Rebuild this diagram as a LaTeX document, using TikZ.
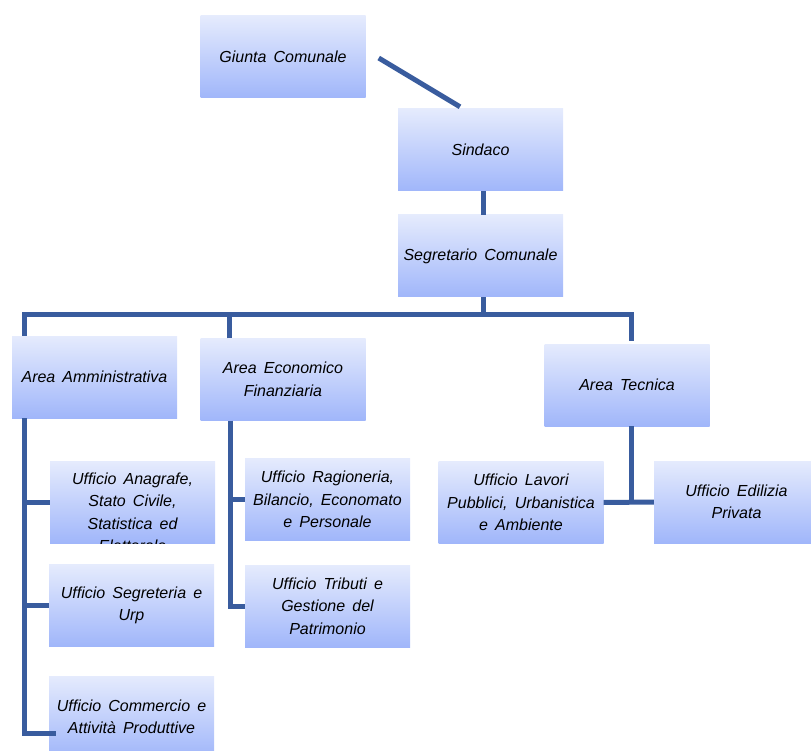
\documentclass[tikz,border=0pt]{standalone}
\usepackage{fontspec}
\setmainfont[WordSpace=1.6]{Liberation Sans}
\usetikzlibrary{positioning, calc}
\definecolor{boxtop}{RGB}{229,235,253}
\definecolor{boxbot}{RGB}{160,182,250}
\definecolor{linkblue}{RGB}{57,92,158}

\begin{document}
\begin{tikzpicture}[x=1pt, y=-1pt,
    box/.style={rectangle, top color=boxtop, bottom color=boxbot, draw=none, minimum width=165pt, minimum height=82pt, align=center, font=\fontsize{16}{22.5}\selectfont\itshape},
    boxtext/.style={align=center, inner sep=3pt, font=\fontsize{16}{22.5}\selectfont\itshape},
    link/.style={line width=5pt, linkblue, line join=miter}]

    \useasboundingbox (0,0) rectangle (811,751);
    \clip (0,0) rectangle (811,751);

    % Vertici
    \node[box] (giunta) at (283,57) {Giunta Comunale};
    \node[box] (sindaco) at (480.5,150) {Sindaco};
    \node[box] (segretario) at (480.5,256) {Segretario Comunale};

    % Aree
    \node[box] (amm) at (94.5,377) {Area Amministrativa};
    \node[box] (eco) at (283,379.5) {Area Economico\\Finanziaria};
    \node[box] (tecnica) at (627,385) {Area Tecnica};

    % Uffici
    \node[box] (anagrafe) at (132.5,502.5) {};
    \begin{scope}
        \clip (anagrafe.north west) rectangle (anagrafe.south east);
        \node[boxtext, anchor=north] (anagrafetxt) at ($(anagrafe.north)+(0,8)$) {Ufficio Anagrafe,\\Stato Civile,\\Statistica ed\\Elettorale};
    \end{scope}
    \node[box] (segreteria) at (131.5,605.5) {Ufficio Segreteria e\\Urp};
    \node[box] (commercio) at (131.5,717) {Ufficio Commercio e\\Attività Produttive};
    \node[box] (ragioneria) at (327.5,499.5) {Ufficio Ragioneria,\\Bilancio, Economato\\e Personale};
    \node[box] (tributi) at (327.5,606) {Ufficio Tributi e\\Gestione del\\Patrimonio};
    \node[box] (lavori) at (521,502.5) {Ufficio Lavori\\Pubblici, Urbanistica\\e Ambiente};
    \node[box] (edilizia) at (736.5,502) {Ufficio Edilizia\\Privata};

    % Collegamenti
    \coordinate (ammline) at ($(amm.south west)+(13,0)$);
    \coordinate (ecoline) at ($(eco.south west)+(30,0)$);
    \coordinate (tecline) at ($(tecnica.south)+(4,0)$);

    \draw[link] ($(giunta.east)+(13,1)$) -- ($(sindaco.north)+(-20.5,-2)$);
    \draw[link] ($(sindaco.south)+(2.5,0)$) -- ($(segretario.north)+(2.5,0)$);
    \draw[link] ($(segretario.south)+(2.5,0)$) -- ++(0,18);
    \draw[link] ($(amm.north west)+(13,0)$) |- ($(tecnica.north)+(4,-29)$) -- ($(tecnica.north)+(4,-3)$);
    \draw[link] ($(eco.north west)+(29,0)$) -- ++(0,-24);

    \draw[link] (ammline) |- ($(commercio.west)+(7,16)$);
    \draw[link] (ammline |- anagrafe.west) -- ++(25,0);
    \draw[link] (ammline |- segreteria.west) -- (segreteria.west);

    \draw[link] (ecoline) |- (tributi.west);
    \draw[link] (ecoline |- ragioneria.west) -- (ragioneria.west);

    \draw[link] (tecline) -- (tecline |- lavori.east);
    \draw[link] (lavori.east) -- (edilizia.west);

\end{tikzpicture}
\end{document}
